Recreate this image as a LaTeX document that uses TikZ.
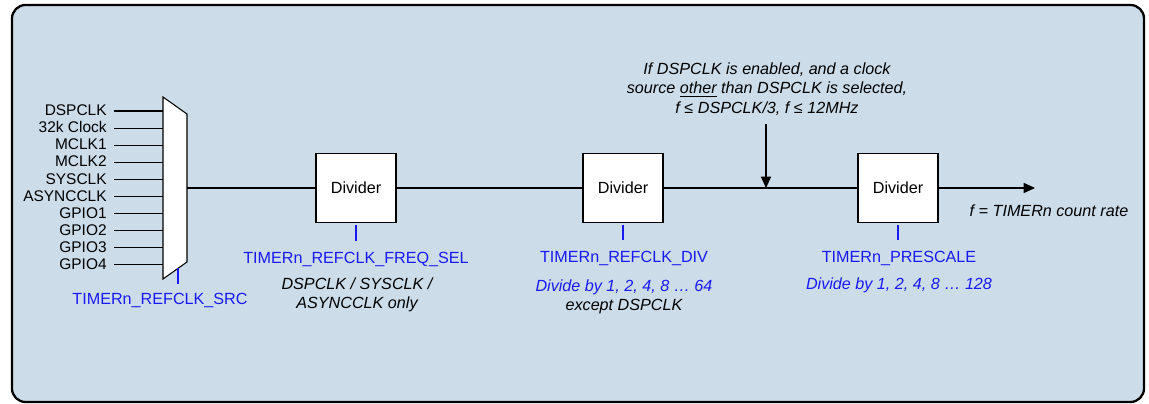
\documentclass[tikz,border=0pt]{standalone}
\usepackage{fontspec}
\setmainfont{Liberation Sans}
\usepackage{xcolor}
\usetikzlibrary{arrows.meta}

\definecolor{panelfill}{RGB}{204,221,233}
\definecolor{regblue}{RGB}{25,25,245}

\begin{document}
\begin{tikzpicture}[x=0.02cm, y=-0.02cm,
    font=\fontsize{9.2}{10.8}\selectfont,
    wire/.style={line width=0.6pt},
    tip/.style={wire, -{Triangle[length=6.5pt, width=5.8pt]}},
    divbox/.style={draw, fill=white, line width=0.6pt, minimum width=1.6cm, minimum height=1.37cm, inner sep=0pt},
    inlabel/.style={anchor=mid east, inner xsep=4pt, inner ysep=0pt, font=\fontsize{8.8}{10.5}\selectfont},
    reglabel/.style={anchor=base, inner sep=0pt, text=regblue},
    regtick/.style={draw=regblue, line width=0.7pt, shorten <=1.5pt, shorten >=0.22cm},
    note/.style={anchor=north, inner sep=0pt, align=center, font=\fontsize{9.2}{10.8}\selectfont\itshape}]
    \useasboundingbox (0,0) rectangle (1149,404);

    % panel
    \draw[line width=1.3pt, fill=panelfill, rounded corners=0.27cm] (12,5) rectangle (1144,402);

    % clock source select
    \draw[wire, fill=white] (163,97) coordinate (muxtl) -- (187,114) -- (187,262) -- (163,279) -- cycle;
    \coordinate (muxout) at (187,188);
    \coordinate (muxsel) at (178,268.5);
    \foreach \src [count=\i from 0] in {DSPCLK, 32k Clock, MCLK1, MCLK2, SYSCLK, ASYNCCLK, GPIO1, GPIO2, GPIO3, GPIO4} {
      \node[inlabel] (in\i) at (114, 111+17.1*\i) {\src};
      \draw[wire] (in\i.mid east) -- (in\i.mid east -| muxtl);
    }
    \node[reglabel] (regsrc) at (160,305) {TIMERn\_REFCLK\_SRC};
    \draw[regtick, shorten <=0pt, shorten >=0.18cm] (muxsel) -- (muxsel |- regsrc.north);

    % dividers
    \node[divbox] (div1) at (356,188) {Divider};
    \node[divbox] (div2) at (623,188) {Divider};
    \node[divbox] (div3) at (898,188) {Divider};
    \coordinate (fout) at (1035,188);

    \draw[wire] (muxout) -- (div1);
    \draw[wire] (div1) -- (div2);
    \draw[wire] (div2) -- (div3);
    \draw[tip] (div3) -- (fout);

    \node[reglabel] (reg1) at (356,264) {TIMERn\_REFCLK\_FREQ\_SEL};
    \node[reglabel] (reg2) at (624,263) {TIMERn\_REFCLK\_DIV};
    \node[reglabel] (reg3) at (899,263) {TIMERn\_PRESCALE};
    \draw[regtick] (div1.south) -- (reg1.north -| div1.south);
    \draw[regtick] (div2.south) -- (reg2.north -| div2.south);
    \draw[regtick] (div3.south) -- (reg3.north -| div3.south);

    \node[note] (note1) at (357,277) {DSPCLK / SYSCLK /\\ASYNCCLK only};
    \node[note] (note2) at (624,279) {\textcolor{regblue}{Divide by 1, 2, 4, 8 … 64}\\except DSPCLK};
    \node[note, text=regblue] (note3) at (899,277) {Divide by 1, 2, 4, 8 … 128};

    % frequency limit
    \node[note, font=\fontsize{9.2}{11.3}\selectfont\itshape] (cond) at (767,62)
      {If DSPCLK is enabled, and a clock\\source \underline{other} than DSPCLK is selected,\\f ≤ DSPCLK/3, f ≤ 12MHz};
    \coordinate (condx) at (766,0);
    \draw[tip, shorten <=0.16cm] (condx |- cond.south) -- (condx |- div2);
    \node[anchor=base, inner sep=0pt, font=\fontsize{9.2}{10.8}\selectfont\itshape] (rate) at (1049,217) {f = TIMERn count rate};
  \end{tikzpicture}
\end{document}
